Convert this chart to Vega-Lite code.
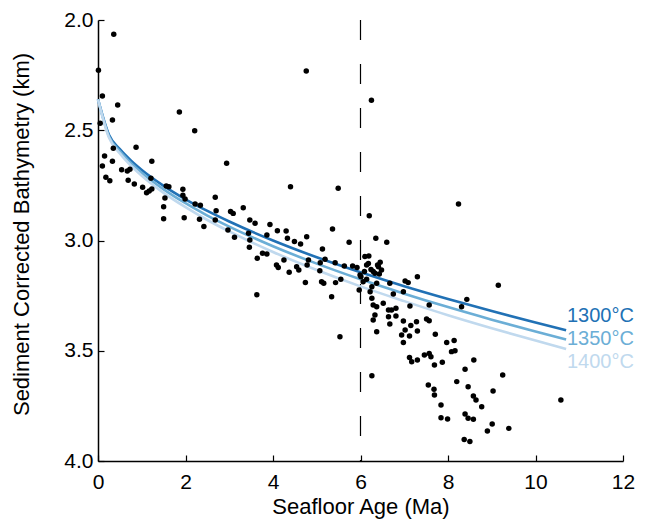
{
  "$schema": "https://vega.github.io/schema/vega-lite/v6.json",
  "autosize": {"type": "none"},
  "width": 525,
  "height": 441,
  "padding": {"left": 98, "top": 20, "right": 31, "bottom": 61},
  "background": "white",
  "config": {
    "view": {"stroke": null},
    "font": "Liberation Sans",
    "axis": {
      "domainColor": "black",
      "domainWidth": 1.5,
      "tickColor": "black",
      "tickWidth": 1.2,
      "tickSize": -6,
      "grid": false,
      "labelColor": "black",
      "titleColor": "black",
      "labelFont": "Liberation Sans",
      "titleFont": "Liberation Sans",
      "labelFontSize": 21,
      "titleFontSize": 22,
      "titleFontWeight": "normal"
    }
  },
  "datasets": {
    "obs": [
      {"age":0.36,"depth":2.065},{"age":0.01,"depth":2.228},{"age":0.10,"depth":2.345},{"age":0.45,"depth":2.385},
      {"age":0.33,"depth":2.454},{"age":0.05,"depth":2.468},{"age":1.86,"depth":2.417},{"age":2.21,"depth":2.502},
      {"age":4.76,"depth":2.231},{"age":6.25,"depth":2.364},{"age":0.87,"depth":2.577},{"age":0.15,"depth":2.617},
      {"age":0.35,"depth":2.582},{"age":0.10,"depth":2.662},{"age":0.33,"depth":2.641},{"age":0.18,"depth":2.713},
      {"age":0.27,"depth":2.729},{"age":0.54,"depth":2.679},{"age":0.67,"depth":2.685},{"age":0.73,"depth":2.677},
      {"age":1.23,"depth":2.641},{"age":0.69,"depth":2.727},{"age":0.83,"depth":2.744},{"age":1.02,"depth":2.759},
      {"age":1.11,"depth":2.783},{"age":1.17,"depth":2.776},{"age":1.23,"depth":2.766},{"age":1.21,"depth":2.718},
      {"age":1.56,"depth":2.753},{"age":1.62,"depth":2.756},{"age":1.53,"depth":2.807},{"age":1.50,"depth":2.847},
      {"age":1.50,"depth":2.901},{"age":1.94,"depth":2.768},{"age":1.94,"depth":2.795},{"age":1.99,"depth":2.812},
      {"age":2.22,"depth":2.834},{"age":2.34,"depth":2.840},{"age":1.97,"depth":2.897},{"age":2.32,"depth":2.904},
      {"age":2.42,"depth":2.937},{"age":4.40,"depth":2.756},{"age":2.68,"depth":2.804},{"age":2.70,"depth":2.865},
      {"age":3.03,"depth":2.868},{"age":3.09,"depth":2.877},{"age":3.32,"depth":2.851},{"age":2.68,"depth":2.907},
      {"age":2.97,"depth":2.952},{"age":3.12,"depth":2.985},{"age":3.47,"depth":2.907},{"age":3.59,"depth":2.922},
      {"age":3.44,"depth":2.967},{"age":3.47,"depth":2.998},{"age":3.46,"depth":3.031},{"age":3.93,"depth":2.927},
      {"age":3.86,"depth":2.975},{"age":4.10,"depth":2.956},{"age":4.30,"depth":2.957},{"age":4.33,"depth":2.990},
      {"age":4.49,"depth":3.005},{"age":4.63,"depth":3.016},{"age":4.77,"depth":2.983},{"age":3.76,"depth":3.058},
      {"age":3.86,"depth":3.061},{"age":3.64,"depth":3.081},{"age":4.08,"depth":3.111},{"age":4.12,"depth":3.122},
      {"age":4.25,"depth":3.088},{"age":4.37,"depth":3.144},{"age":4.54,"depth":3.119},{"age":4.59,"depth":3.134},
      {"age":4.74,"depth":3.190},{"age":4.78,"depth":3.111},{"age":3.63,"depth":3.246},{"age":5.49,"depth":2.763},
      {"age":6.20,"depth":2.888},{"age":5.36,"depth":2.948},{"age":5.74,"depth":3.008},{"age":6.35,"depth":2.990},
      {"age":5.13,"depth":3.039},{"age":5.19,"depth":3.085},{"age":5.08,"depth":3.101},{"age":5.42,"depth":3.101},
      {"age":5.63,"depth":3.116},{"age":5.82,"depth":3.116},{"age":5.92,"depth":3.122},{"age":5.11,"depth":3.187},
      {"age":5.16,"depth":3.194},{"age":5.43,"depth":3.191},{"age":5.55,"depth":3.176},{"age":5.07,"depth":3.137},
      {"age":5.34,"depth":3.255},{"age":5.97,"depth":3.224},{"age":5.99,"depth":3.156},{"age":6.10,"depth":3.073},
      {"age":6.19,"depth":3.070},{"age":6.14,"depth":3.111},{"age":6.09,"depth":3.141},{"age":6.24,"depth":3.131},
      {"age":6.39,"depth":3.111},{"age":6.45,"depth":3.099},{"age":6.33,"depth":3.149},{"age":6.48,"depth":3.134},
      {"age":6.14,"depth":3.176},{"age":6.26,"depth":3.210},{"age":6.37,"depth":3.194},{"age":6.22,"depth":3.232},
      {"age":6.26,"depth":3.262},{"age":6.29,"depth":3.293},{"age":6.37,"depth":3.300},{"age":6.33,"depth":3.338},
      {"age":6.29,"depth":3.361},{"age":6.52,"depth":3.285},{"age":6.60,"depth":3.008},{"age":7.30,"depth":3.164},
      {"age":7.02,"depth":3.184},{"age":7.09,"depth":3.191},{"age":6.67,"depth":3.194},{"age":6.75,"depth":3.243},
      {"age":6.98,"depth":3.232},{"age":6.64,"depth":3.315},{"age":6.71,"depth":3.315},{"age":6.81,"depth":3.307},
      {"age":6.64,"depth":3.346},{"age":6.81,"depth":3.342},{"age":7.13,"depth":3.297},{"age":7.57,"depth":3.293},
      {"age":7.51,"depth":3.356},{"age":7.57,"depth":3.364},{"age":6.67,"depth":3.379},{"age":6.98,"depth":3.365},
      {"age":7.28,"depth":3.368},{"age":7.15,"depth":3.385},{"age":7.02,"depth":3.406},{"age":6.94,"depth":3.429},
      {"age":7.12,"depth":3.433},{"age":7.30,"depth":3.410},{"age":6.98,"depth":3.463},{"age":7.71,"depth":3.425},
      {"age":7.97,"depth":3.463},{"age":8.14,"depth":3.454},{"age":8.08,"depth":3.504},{"age":8.16,"depth":3.500},
      {"age":7.46,"depth":3.519},{"age":7.57,"depth":3.512},{"age":7.61,"depth":3.527},{"age":7.69,"depth":3.565},
      {"age":7.87,"depth":3.552},{"age":7.12,"depth":3.531},{"age":7.17,"depth":3.550},{"age":7.30,"depth":3.542},
      {"age":8.20,"depth":3.640},{"age":7.55,"depth":3.655},{"age":7.68,"depth":3.675},{"age":7.69,"depth":3.701},
      {"age":7.84,"depth":3.746},{"age":7.84,"depth":3.804},{"age":7.99,"depth":3.810},{"age":8.24,"depth":2.834},
      {"age":6.26,"depth":3.613},{"age":9.15,"depth":3.203},{"age":8.43,"depth":3.267},{"age":8.31,"depth":3.300},
      {"age":8.59,"depth":3.542},{"age":8.39,"depth":3.584},{"age":9.25,"depth":3.610},{"age":8.46,"depth":3.663},
      {"age":9.03,"depth":3.683},{"age":8.58,"depth":3.705},{"age":8.64,"depth":3.723},{"age":8.77,"depth":3.754},
      {"age":10.58,"depth":3.723},{"age":8.39,"depth":3.787},{"age":8.46,"depth":3.806},{"age":8.58,"depth":3.811},
      {"age":9.01,"depth":3.832},{"age":8.90,"depth":3.864},{"age":9.39,"depth":3.852},{"age":8.37,"depth":3.902},
      {"age":8.50,"depth":3.912},{"age":6.18,"depth":3.104},{"age":6.29,"depth":3.141},{"age":6.43,"depth":3.152},
      {"age":6.41,"depth":3.119},{"age":6.01,"depth":3.164},{"age":6.06,"depth":3.187},{"age":6.37,"depth":3.414},
      {"age":5.53,"depth":3.436},{"age":2.94,"depth":2.650},{"age":4.81,"depth":3.088}
    ],
    "model": [
      {"s":"1300°C","age":0,"depth":2.36},{"s":"1300°C","age":0.25,"depth":2.52},{"s":"1300°C","age":0.5,"depth":2.586},
      {"s":"1300°C","age":0.75,"depth":2.637},{"s":"1300°C","age":1,"depth":2.68},{"s":"1300°C","age":1.5,"depth":2.752},
      {"s":"1300°C","age":2,"depth":2.813},{"s":"1300°C","age":2.5,"depth":2.866},{"s":"1300°C","age":3,"depth":2.914},
      {"s":"1300°C","age":4,"depth":3.0},{"s":"1300°C","age":5,"depth":3.076},{"s":"1300°C","age":6,"depth":3.144},
      {"s":"1300°C","age":7,"depth":3.207},{"s":"1300°C","age":8,"depth":3.265},{"s":"1300°C","age":9,"depth":3.32},
      {"s":"1300°C","age":10,"depth":3.372},{"s":"1300°C","age":10.7,"depth":3.407},
      {"s":"1350°C","age":0,"depth":2.36},{"s":"1350°C","age":0.25,"depth":2.527},{"s":"1350°C","age":0.5,"depth":2.595},
      {"s":"1350°C","age":0.75,"depth":2.648},{"s":"1350°C","age":1,"depth":2.693},{"s":"1350°C","age":1.5,"depth":2.768},
      {"s":"1350°C","age":2,"depth":2.831},{"s":"1350°C","age":2.5,"depth":2.887},{"s":"1350°C","age":3,"depth":2.937},
      {"s":"1350°C","age":4,"depth":3.026},{"s":"1350°C","age":5,"depth":3.105},{"s":"1350°C","age":6,"depth":3.176},
      {"s":"1350°C","age":7,"depth":3.241},{"s":"1350°C","age":8,"depth":3.302},{"s":"1350°C","age":9,"depth":3.359},
      {"s":"1350°C","age":10,"depth":3.413},{"s":"1350°C","age":10.7,"depth":3.449},
      {"s":"1400°C","age":0,"depth":2.36},{"s":"1400°C","age":0.25,"depth":2.533},{"s":"1400°C","age":0.5,"depth":2.605},
      {"s":"1400°C","age":0.75,"depth":2.66},{"s":"1400°C","age":1,"depth":2.706},{"s":"1400°C","age":1.5,"depth":2.784},
      {"s":"1400°C","age":2,"depth":2.849},{"s":"1400°C","age":2.5,"depth":2.907},{"s":"1400°C","age":3,"depth":2.959},
      {"s":"1400°C","age":4,"depth":3.052},{"s":"1400°C","age":5,"depth":3.134},{"s":"1400°C","age":6,"depth":3.208},
      {"s":"1400°C","age":7,"depth":3.275},{"s":"1400°C","age":8,"depth":3.339},{"s":"1400°C","age":9,"depth":3.398},
      {"s":"1400°C","age":10,"depth":3.454},{"s":"1400°C","age":10.7,"depth":3.492}
    ],
    "labels": [
      {"s":"1300°C","age":10.72,"depth":3.343},
      {"s":"1350°C","age":10.72,"depth":3.447},
      {"s":"1400°C","age":10.72,"depth":3.551}
    ],
    "ridge": [{"age":6,"y1":2.0,"y2":4.0}]
  },
  "layer": [
    {
      "data": {"name": "ridge"},
      "mark": {"type": "rule", "color": "black", "strokeWidth": 1.2, "strokeDash": [20, 24]},
      "encoding": {
        "x": {"field": "age", "type": "quantitative", "scale": {"domain": [0, 12], "nice": false, "zero": false},
              "axis": {"title": "Seafloor Age (Ma)", "values": [0,2,4,6,8,10,12], "labelPadding": 16, "titlePadding": 4, "labelFlush": false}},
        "y": {"field": "y1", "type": "quantitative", "scale": {"domain": [2, 4], "reverse": true, "nice": false, "zero": false},
              "axis": {"title": "Sediment Corrected Bathymetry (km)", "values": [2,2.5,3,3.5,4], "format": ".1f", "labelPadding": 11, "titlePadding": 30, "titleY": 214, "labelFlush": false}},
        "y2": {"field": "y2"}
      }
    },
    {
      "data": {"name": "model"},
      "mark": {"type": "line", "strokeWidth": 2.6, "interpolate": "monotone"},
      "encoding": {
        "x": {"field": "age", "type": "quantitative"},
        "y": {"field": "depth", "type": "quantitative"},
        "color": {"field": "s", "type": "nominal", "scale": {"domain": ["1300°C","1350°C","1400°C"], "range": ["#2171b5","#6baed6","#c0d9ee"]}, "legend": null},
        "order": {"field": "s", "sort": "descending"}
      }
    },
    {
      "data": {"name": "obs"},
      "mark": {"type": "circle", "color": "black", "opacity": 1, "size": 30},
      "encoding": {
        "x": {"field": "age", "type": "quantitative"},
        "y": {"field": "depth", "type": "quantitative"}
      }
    },
    {
      "data": {"name": "labels"},
      "mark": {"type": "text", "align": "left", "baseline": "middle", "fontSize": 20, "font": "Liberation Sans"},
      "encoding": {
        "x": {"field": "age", "type": "quantitative"},
        "y": {"field": "depth", "type": "quantitative"},
        "text": {"field": "s"},
        "color": {"field": "s", "type": "nominal", "legend": null}
      }
    }
  ]
}
